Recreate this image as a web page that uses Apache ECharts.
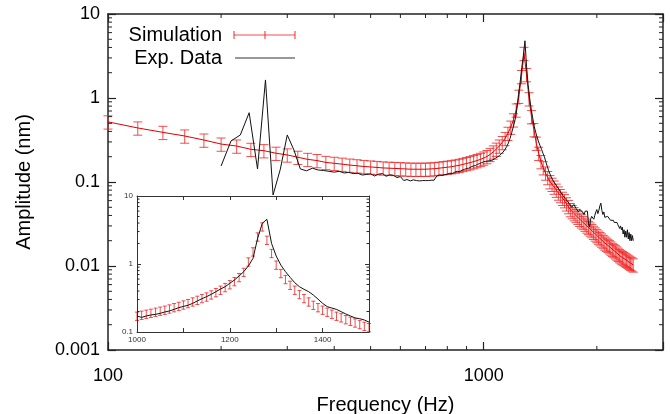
<!DOCTYPE html>
<html>
<head>
<meta charset="utf-8">
<script src="https://cdn.jsdelivr.net/npm/echarts@6/dist/echarts.min.js"></script>
<style>
  html, body { margin: 0; padding: 0; background: #fff; }
  #chart { width: 670px; height: 414px; }
</style>
</head>
<body>
<div id="chart"></div>
<script>
// simulation, main plot: 100 .. 2500 Hz every 20 Hz
var simFreqStart = 100;
var simFreqStep = 20;
var simAmp = [
  0.52, 0.44, 0.39, 0.353, 0.316, 0.283, 0.268, 0.245, 0.236, 0.22,
  0.21, 0.197, 0.186, 0.18, 0.171, 0.167, 0.163, 0.159, 0.156, 0.153,
  0.151, 0.149, 0.147, 0.146, 0.145, 0.144, 0.143, 0.142, 0.142, 0.142,
  0.142, 0.143, 0.144, 0.146, 0.148, 0.150, 0.152, 0.155, 0.158, 0.162,
  0.166, 0.170, 0.175, 0.180, 0.186, 0.193, 0.201, 0.213, 0.228, 0.246,
  0.268, 0.295, 0.33, 0.38, 0.45, 0.55, 0.72, 1.05, 1.8, 3.4,
  1.9, 0.98, 0.6, 0.42, 0.29, 0.22, 0.175, 0.148, 0.128, 0.113,
  0.101, 0.094, 0.087, 0.080, 0.074, 0.069, 0.064, 0.060, 0.055, 0.051,
  0.047, 0.0445, 0.042, 0.040, 0.038, 0.036, 0.0345, 0.033, 0.0315, 0.030,
  0.0288, 0.0276, 0.0264, 0.0252, 0.0241, 0.0231, 0.0221, 0.0212, 0.0204, 0.0196,
  0.0188, 0.0182, 0.0176, 0.0170, 0.0164, 0.0158, 0.0153, 0.0148, 0.0143, 0.0138,
  0.0133, 0.0129, 0.0126, 0.0123, 0.0120, 0.0117, 0.0114, 0.0111, 0.0108, 0.0106,
  0.0103
];
var simErrFrac = 0.18;

// measured data, main plot: 200 .. 2500 Hz every 12.5 Hz
var expFreqStart = 200;
var expFreqStep = 12.5;
var expAmp = [
  0.155, 0.308, 0.363, 0.668, 0.143, 1.64, 0.070, 0.142,
  0.363, 0.24, 0.143, 0.136, 0.146, 0.139, 0.137, 0.134,
  0.131, 0.134, 0.128, 0.130, 0.126, 0.127, 0.121, 0.123,
  0.125, 0.118, 0.124, 0.126, 0.117, 0.122, 0.120, 0.113,
  0.116, 0.104, 0.107, 0.103, 0.106, 0.104, 0.103, 0.104,
  0.104, 0.104, 0.105, 0.105, 0.118, 0.121, 0.120, 0.122,
  0.124, 0.127, 0.126, 0.131, 0.134, 0.133, 0.138, 0.141,
  0.145, 0.146, 0.151, 0.155, 0.157, 0.162, 0.166, 0.170,
  0.174, 0.176, 0.178, 0.174, 0.180, 0.186, 0.192, 0.198,
  0.205, 0.214, 0.226, 0.242, 0.262, 0.290, 0.330, 0.390,
  0.46, 0.56, 0.73, 1.10, 1.55, 2.30, 3.20, 4.80,
  2.40, 1.45, 1.00, 0.74, 0.58, 0.46, 0.39, 0.34,
  0.30, 0.27, 0.245, 0.22, 0.20, 0.175, 0.155, 0.138,
  0.125, 0.115, 0.107, 0.100, 0.095, 0.090, 0.086, 0.081,
  0.076, 0.072, 0.069, 0.066, 0.063, 0.061, 0.058, 0.056,
  0.053, 0.050, 0.051, 0.054, 0.052, 0.048, 0.046, 0.044,
  0.047, 0.049, 0.045, 0.043, 0.041, 0.045, 0.047, 0.045,
  0.032, 0.029, 0.036, 0.039, 0.037, 0.036, 0.040, 0.044,
  0.047, 0.042, 0.046, 0.052, 0.056, 0.046, 0.041, 0.044,
  0.038, 0.040, 0.036, 0.039, 0.041, 0.037, 0.035, 0.036,
  0.034, 0.035, 0.033, 0.034, 0.032, 0.033, 0.031, 0.032,
  0.028, 0.030, 0.027, 0.029, 0.024, 0.027, 0.022, 0.026,
  0.022, 0.027, 0.021, 0.025, 0.020, 0.024, 0.020, 0.023,
  0.020
];

// inset: 1000 .. 1500 Hz every 10 Hz
var insetFreqStart = 1000;
var insetFreqStep = 10;
var insetSimAmp = [
  0.172, 0.178, 0.184, 0.19, 0.197, 0.204, 0.211, 0.22, 0.23, 0.24,
  0.252, 0.264, 0.279, 0.295, 0.313, 0.33, 0.354, 0.383, 0.415, 0.454,
  0.50, 0.556, 0.637, 0.76, 1.08, 1.52, 2.52, 3.54, 2.25, 1.44,
  0.97, 0.73, 0.596, 0.49, 0.415, 0.358, 0.313, 0.279, 0.249, 0.23,
  0.211, 0.197, 0.184, 0.172, 0.163, 0.153, 0.145, 0.137, 0.13, 0.122,
  0.117
];
var insetExpAmp = [
  0.172, 0.164, 0.172, 0.178, 0.182, 0.188, 0.197, 0.204, 0.215, 0.228,
  0.238, 0.247, 0.264, 0.286, 0.309, 0.331, 0.358, 0.392, 0.428, 0.464,
  0.52, 0.582, 0.667, 0.771, 0.935, 1.21, 2.39, 3.96, 4.54, 2.01,
  1.31, 0.966, 0.771, 0.637, 0.531, 0.464, 0.424, 0.392, 0.35, 0.305,
  0.264, 0.236, 0.225, 0.215, 0.199, 0.184, 0.172, 0.161, 0.157, 0.15,
  0.14
];
var insetErrFrac = 0.14;

// axes
var xTickLabels = ['100', '1000'];
var yTickLabels = ['0.001', '0.01', '0.1', '1', '10'];
var xMinorTicks = [200, 300, 400, 500, 600, 700, 800, 900, 2000];
var yMinorTicks = [
  0.002, 0.003, 0.004, 0.005, 0.006, 0.007, 0.008, 0.009,
  0.02, 0.03, 0.04, 0.05, 0.06, 0.07, 0.08, 0.09,
  0.2, 0.3, 0.4, 0.5, 0.6, 0.7, 0.8, 0.9,
  2, 3, 4, 5, 6, 7, 8, 9
];
var insetXTickLabels = ['1000', '1200', '1400'];
var insetYTickLabels = ['0.1', '1', '10'];
var insetYMinorTicks = [0.2, 0.3, 0.4, 0.5, 0.6, 0.7, 0.8, 0.9, 2, 3, 4, 5, 6, 7, 8, 9];

var FONT = '"Liberation Sans", Arial, Helvetica, sans-serif';
var RED = '#e00000';
var BAR = 'rgba(238, 30, 30, 0.78)';
var AXIS = '#222';

function pairs(start, step, arr) {
  return arr.map(function (v, i) { return [start + i * step, v]; });
}
function bars(start, step, arr, frac) {
  return arr.map(function (v, i) { return [start + i * step, v * (1 - frac), v * (1 + frac)]; });
}
function logLabel(list, lowExp) {
  return function (v) {
    var e = Math.log10(v), r = Math.round(e);
    if (Math.abs(e - r) > 1e-6) return '';
    return list[r - lowExp] || '';
  };
}

function errorBarRender(capHalf, width) {
  return function (params, api) {
    var lo = api.coord([api.value(0), api.value(1)]);
    var hi = api.coord([api.value(0), api.value(2)]);
    var st = { stroke: BAR, lineWidth: width };
    return {
      type: 'group',
      children: [
        { type: 'line', shape: { x1: lo[0], y1: lo[1], x2: hi[0], y2: hi[1] }, style: st },
        { type: 'line', shape: { x1: lo[0] - capHalf, y1: lo[1], x2: lo[0] + capHalf, y2: lo[1] }, style: st },
        { type: 'line', shape: { x1: hi[0] - capHalf, y1: hi[1], x2: hi[0] + capHalf, y2: hi[1] }, style: st }
      ]
    };
  };
}

function minorX(len, refY) {
  return function (params, api) {
    var cs = params.coordSys;
    var x = api.coord([api.value(0), refY])[0];
    var st = { stroke: AXIS, lineWidth: 1 };
    return { type: 'group', children: [
      { type: 'line', shape: { x1: x, y1: cs.y + cs.height, x2: x, y2: cs.y + cs.height - len }, style: st },
      { type: 'line', shape: { x1: x, y1: cs.y, x2: x, y2: cs.y + len }, style: st }
    ] };
  };
}
function minorY(len, refX) {
  return function (params, api) {
    var cs = params.coordSys;
    var y = api.coord([refX, api.value(1)])[1];
    var st = { stroke: AXIS, lineWidth: 1 };
    return { type: 'group', children: [
      { type: 'line', shape: { x1: cs.x, y1: y, x2: cs.x + len, y2: y }, style: st },
      { type: 'line', shape: { x1: cs.x + cs.width, y1: y, x2: cs.x + cs.width - len, y2: y }, style: st }
    ] };
  };
}

function baseAxis(extra) {
  var a = {
    splitLine: { show: false },
    axisLine: { show: true, onZero: false, lineStyle: { color: AXIS, width: 1.5 } },
    axisTick: { show: true, inside: true, length: 8, lineStyle: { color: AXIS, width: 1.2 } },
    axisLabel: { show: false }
  };
  for (var k in extra) a[k] = extra[k];
  return a;
}

var chart = echarts.init(document.getElementById('chart'), null, { renderer: 'canvas' });

var option = {
  animation: false,
  backgroundColor: '#fff',
  textStyle: { fontFamily: FONT },
  grid: [
    { left: 108, top: 14, width: 555, height: 336, outerBoundsMode: 'none', containLabel: false },
    { left: 137, top: 196, width: 232, height: 136, outerBoundsMode: 'none', containLabel: false,
      show: true, backgroundColor: '#fff', borderWidth: 0, z: 5 }
  ],
  xAxis: [
    baseAxis({
      type: 'log', logBase: 10, gridIndex: 0, min: 100, max: 3000, position: 'bottom',
      axisLabel: { show: true, formatter: logLabel(xTickLabels, 2), fontSize: 18, color: '#000', margin: 17, fontFamily: FONT },
      name: 'Frequency (Hz)', nameLocation: 'middle', nameGap: 45,
      nameTextStyle: { fontSize: 20, color: '#000', fontFamily: FONT }
    }),
    baseAxis({ type: 'log', logBase: 10, gridIndex: 0, min: 100, max: 3000, position: 'top' }),
    baseAxis({
      type: 'value', gridIndex: 1, min: 1000, max: 1500, interval: 100, position: 'bottom', z: 6,
      axisLine: { show: true, onZero: false, lineStyle: { color: '#333', width: 1 } },
      axisTick: { show: true, inside: true, length: 4, lineStyle: { color: '#333', width: 1 } },
      axisLabel: { show: true, fontSize: 8, color: '#333', margin: 4, fontFamily: FONT,
        formatter: function (v) { return insetXTickLabels.indexOf(String(v)) >= 0 ? String(v) : ''; } }
    }),
    baseAxis({
      type: 'value', gridIndex: 1, min: 1000, max: 1500, interval: 100, position: 'top', z: 6,
      axisLine: { show: true, onZero: false, lineStyle: { color: '#333', width: 1 } },
      axisTick: { show: true, inside: true, length: 4, lineStyle: { color: '#333', width: 1 } }
    })
  ],
  yAxis: [
    baseAxis({
      type: 'log', logBase: 10, gridIndex: 0, min: 0.001, max: 10, position: 'left',
      axisLabel: { show: true, formatter: logLabel(yTickLabels, -3), fontSize: 18, color: '#000', margin: 8, fontFamily: FONT },
      name: 'Amplitude (nm)', nameLocation: 'middle', nameGap: 74, nameRotate: 90,
      nameTextStyle: { fontSize: 20, color: '#000', fontFamily: FONT }
    }),
    baseAxis({ type: 'log', logBase: 10, gridIndex: 0, min: 0.001, max: 10, position: 'right' }),
    baseAxis({
      type: 'log', logBase: 10, gridIndex: 1, min: 0.1, max: 10, position: 'left', z: 6,
      axisLine: { show: true, onZero: false, lineStyle: { color: '#333', width: 1 } },
      axisTick: { show: true, inside: true, length: 4, lineStyle: { color: '#333', width: 1 } },
      axisLabel: { show: true, fontSize: 8, color: '#333', margin: 4, fontFamily: FONT, formatter: logLabel(insetYTickLabels, -1) }
    }),
    baseAxis({
      type: 'log', logBase: 10, gridIndex: 1, min: 0.1, max: 10, position: 'right', z: 6,
      axisLine: { show: true, onZero: false, lineStyle: { color: '#333', width: 1 } },
      axisTick: { show: true, inside: true, length: 4, lineStyle: { color: '#333', width: 1 } }
    })
  ],
  series: [
    // main minor ticks
    { type: 'custom', xAxisIndex: 0, yAxisIndex: 0, silent: true, z: 4,
      data: xMinorTicks.map(function (v) { return [v, 1]; }), encode: { x: 0, y: 1 }, renderItem: minorX(4, 1) },
    { type: 'custom', xAxisIndex: 0, yAxisIndex: 0, silent: true, z: 4,
      data: yMinorTicks.map(function (v) { return [1000, v]; }), encode: { x: 0, y: 1 }, renderItem: minorY(4, 1000) },
    // main simulation
    { name: 'Simulation bars', type: 'custom', xAxisIndex: 0, yAxisIndex: 0, silent: true, z: 2,
      data: bars(simFreqStart, simFreqStep, simAmp, simErrFrac), encode: { x: 0, y: [1, 2] },
      renderItem: errorBarRender(4.5, 1) },
    { name: 'Simulation', type: 'line', xAxisIndex: 0, yAxisIndex: 0, z: 2,
      data: pairs(simFreqStart, simFreqStep, simAmp), showSymbol: false, symbol: 'none',
      lineStyle: { color: RED, width: 1 } },
    // main measured
    { name: 'Exp. Data', type: 'line', xAxisIndex: 0, yAxisIndex: 0, z: 3,
      data: pairs(expFreqStart, expFreqStep, expAmp), showSymbol: false, symbol: 'none',
      lineStyle: { color: '#111', width: 1 } },
    // inset
    { type: 'custom', xAxisIndex: 2, yAxisIndex: 2, silent: true, z: 7,
      data: insetYMinorTicks.map(function (v) { return [1200, v]; }), encode: { x: 0, y: 1 }, renderItem: minorY(2.5, 1200) },
    { type: 'custom', xAxisIndex: 2, yAxisIndex: 2, silent: true, z: 6,
      data: bars(insetFreqStart, insetFreqStep, insetSimAmp, insetErrFrac), encode: { x: 0, y: [1, 2] },
      renderItem: errorBarRender(2, 1) },
    { type: 'line', xAxisIndex: 2, yAxisIndex: 2, z: 6,
      data: pairs(insetFreqStart, insetFreqStep, insetExpAmp), showSymbol: false, symbol: 'none',
      lineStyle: { color: '#111', width: 1 } }
  ],
  graphic: [
    { type: 'text', x: 222, y: 35, z: 10,
      style: { text: 'Simulation', font: '20px ' + FONT, fill: '#000', align: 'right', verticalAlign: 'middle' } },
    { type: 'text', x: 222, y: 58, z: 10,
      style: { text: 'Exp. Data', font: '20px ' + FONT, fill: '#000', align: 'right', verticalAlign: 'middle' } },
    { type: 'line', z: 10, shape: { x1: 234, y1: 35, x2: 295, y2: 35 }, style: { stroke: BAR, lineWidth: 1.2 } },
    { type: 'line', z: 10, shape: { x1: 234, y1: 31, x2: 234, y2: 39 }, style: { stroke: BAR, lineWidth: 1.2 } },
    { type: 'line', z: 10, shape: { x1: 265, y1: 31, x2: 265, y2: 39 }, style: { stroke: BAR, lineWidth: 1.2 } },
    { type: 'line', z: 10, shape: { x1: 295, y1: 31, x2: 295, y2: 39 }, style: { stroke: BAR, lineWidth: 1.2 } },
    { type: 'line', z: 10, shape: { x1: 235, y1: 58, x2: 295, y2: 58 }, style: { stroke: '#333', lineWidth: 1 } }
  ]
};

chart.setOption(option);
</script>
</body>
</html>
